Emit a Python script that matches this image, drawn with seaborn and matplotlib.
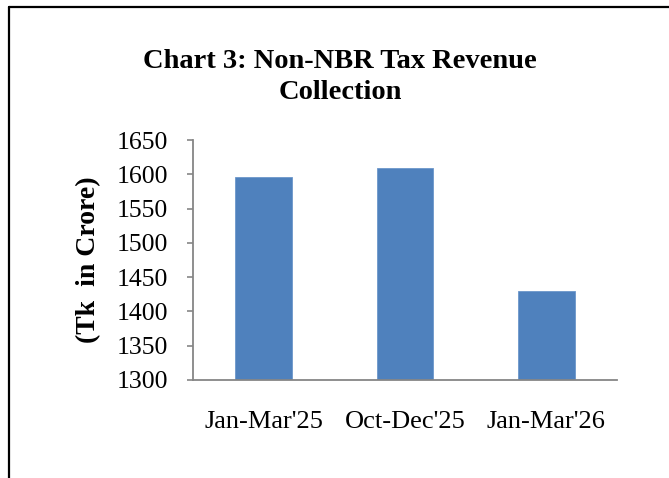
import matplotlib
matplotlib.use("Agg")
import matplotlib.pyplot as plt
import seaborn as sns
import pandas as pd
from matplotlib.lines import Line2D

categories = ["Jan-Mar'25", "Oct-Dec'25", "Jan-Mar'26"]
values = [1596, 1609, 1430]
yticks = [1300, 1350, 1400, 1450, 1500, 1550, 1600, 1650]

sns.set_style("white")
plt.rcParams['font.family'] = ['Liberation Serif', 'DejaVu Serif']
plt.rcParams['text.color'] = 'black'
plt.rcParams['axes.labelcolor'] = 'black'
plt.rcParams['xtick.color'] = 'black'
plt.rcParams['ytick.color'] = 'black'

df = pd.DataFrame({"period": categories, "value": values})

fig = plt.figure(figsize=(6.69, 4.78), dpi=100)
ax = fig.add_axes([193/669, 1-380/478, (617-193)/669, (380-140)/478])

sns.barplot(data=df, x="period", y="value", color="#4F81BD", width=0.4,
            saturation=1, ax=ax, edgecolor="#6C97CB", linewidth=0.6)

ax.set_ylim(1300, 1650)
ax.set_xlim(-0.5, 2.5)
ax.set_yticks(yticks)
ax.set_yticklabels([str(t) for t in yticks], fontsize=18.5, color="black")
ax.set_xticks(range(len(categories)))
ax.set_xticklabels(categories, fontsize=19, color="black")
ax.set_xlabel("")
ax.set_ylabel("(Tk  in Crore)", fontsize=20, fontweight="bold", labelpad=11,
              color="black")

for s in ["top", "right"]:
    ax.spines[s].set_visible(False)
for s in ["left", "bottom"]:
    ax.spines[s].set_color("#868686")
    ax.spines[s].set_linewidth(1.3)

ax.tick_params(axis="y", which="both", left=True, length=4, width=1.2,
               color="#868686", labelcolor="black", pad=14, direction="out")
ax.tick_params(axis="x", which="both", bottom=False, length=0, pad=22,
               labelcolor="black")

fig.text(340/669, 1-77/478, "Chart 3: Non-NBR Tax Revenue\nCollection",
         ha="center", va="center", fontsize=20.5, fontweight="bold",
         linespacing=1.3, color="black")

# outer frame (left and top only)
fig.add_artist(Line2D([8.5/669, 8.5/669], [0, 1-6.5/478], transform=fig.transFigure,
                      color="black", linewidth=1.6))
fig.add_artist(Line2D([8.5/669, 1], [1-6.5/478, 1-6.5/478], transform=fig.transFigure,
                      color="black", linewidth=1.6))

fig.savefig("out.png", dpi=100)
